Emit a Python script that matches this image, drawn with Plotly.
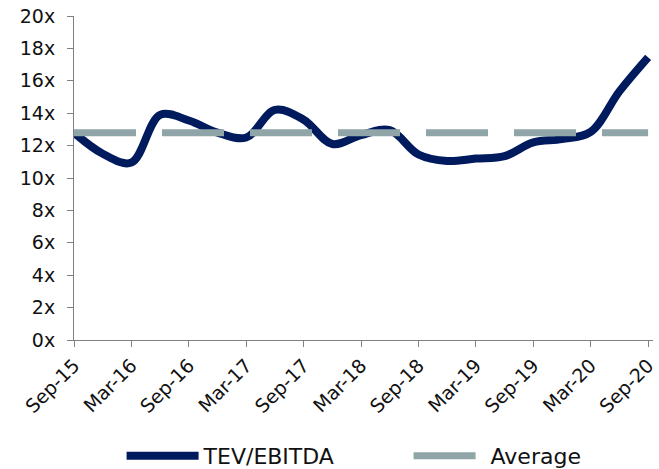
import plotly.graph_objects as go

quarters = ["Sep-15","Dec-15","Mar-16","Jun-16","Sep-16","Dec-16","Mar-17","Jun-17","Sep-17",
            "Dec-17","Mar-18","Jun-18","Sep-18","Dec-18","Mar-19","Jun-19","Sep-19","Dec-19",
            "Mar-20","Jun-20","Sep-20"]
tev_ebitda = [12.8, 11.5, 10.95, 13.9, 13.55, 12.8, 12.5, 14.2, 13.6,
              12.1, 12.65, 12.95, 11.45, 11.05, 11.2, 11.35, 12.2, 12.4,
              12.85, 15.35, 17.45]
average = [12.8] * len(quarters)
tick_labels = ["Sep-15","Mar-16","Sep-16","Mar-17","Sep-17","Mar-18","Sep-18","Mar-19","Sep-19","Mar-20","Sep-20"]
y_ticks = list(range(0, 21, 2))

x = list(range(len(quarters)))
tickvals = [quarters.index(t) for t in tick_labels]

fig = go.Figure()
fig.add_trace(go.Scatter(x=x, y=tev_ebitda, mode="lines", name="TEV/EBITDA",
                         line=dict(color="#001A5E", width=8, shape="spline", smoothing=1.0)))
fig.add_trace(go.Scatter(x=x, y=average, mode="lines", name="Average",
                         line=dict(color="#8FA5A8", width=7, dash="62px,26px")))

font = dict(family="'DejaVu Sans', sans-serif", size=19, color="#111111")
fig.update_layout(
    width=659, height=469,
    margin=dict(l=74, r=6, t=16, b=129, autoexpand=False),
    plot_bgcolor="white", paper_bgcolor="white",
    font=font,
    showlegend=True,
    legend=dict(orientation="h", x=0.62, xanchor="center", xref="container",
                y=0.028, yanchor="middle", yref="container",
                font=dict(size=22), itemwidth=72, traceorder="normal", entrywidth=200),
    xaxis=dict(range=[0, 20.17], tickvals=tickvals, ticktext=tick_labels, tickangle=-45,
               showgrid=False, zeroline=False, showline=True, linecolor="#808080", linewidth=1,
               ticks="outside", ticklen=6, tickcolor="#808080", automargin=False),
    yaxis=dict(range=[0, 20], tickvals=y_ticks, ticktext=[f"{v}x" for v in y_ticks],
               showgrid=False, zeroline=False, showline=True, linecolor="#808080", linewidth=1,
               ticks="outside", ticklen=6, tickcolor="#808080", automargin=False,
               ticklabelstandoff=8),
)
fig.write_html("out.html", config={"displayModeBar": False},
               post_script="document.body.style.margin='0px';")
